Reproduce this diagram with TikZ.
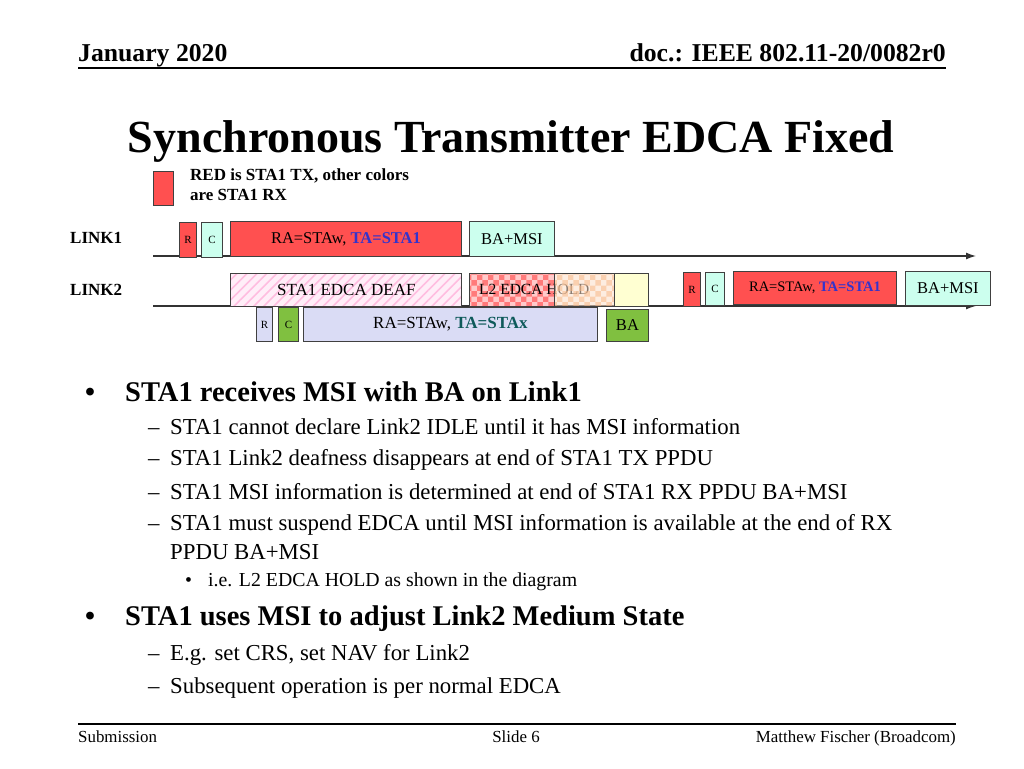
\documentclass[tikz,border=0pt]{standalone}
\usepackage{fontspec}
\setmainfont{Liberation Serif}
\usetikzlibrary{arrows.meta,patterns,patterns.meta}
\definecolor{TxRed}{HTML}{FF5050}
\definecolor{RxCyan}{HTML}{CCFFEE}
\definecolor{RxLilac}{HTML}{DADCF5}
\definecolor{RxGreen}{HTML}{80C040}
\definecolor{DeafPink}{HTML}{FFEEF8}
\definecolor{HatchPink}{HTML}{FFBDE0}
\definecolor{HoldRed}{HTML}{FF7A7A}
\definecolor{HoldOrange}{HTML}{F8B888}
\definecolor{HoldYellow}{HTML}{FFFFD2}
\definecolor{TaBlue}{HTML}{3333CC}
\definecolor{TaTeal}{HTML}{0E5A5A}

\begin{document}
\begin{tikzpicture}[x=1pt, y=-1pt,
  frame/.style={draw=black!75, line width=0.9pt, inner sep=0pt, anchor=north west, font=\fontsize{16.5}{18}\selectfont},
  tiny/.style={frame, font=\fontsize{11}{12}\selectfont},
  txt/.style={anchor=west, inner sep=0pt},
  head/.style={font=\fontsize{25.7}{28}\bfseries\selectfont},
  big/.style={txt, font=\fontsize{28.5}{32}\bfseries\selectfont},
  sub/.style={txt, font=\fontsize{22.8}{26}\selectfont},
  subsub/.style={txt, font=\fontsize{19.8}{23}\selectfont},
  foot/.style={font=\fontsize{16.9}{19}\selectfont, inner sep=0pt},
  link/.style={-{Latex[length=10pt,width=7pt]}, line width=1.3pt, draw=black!80}
]
  \useasboundingbox (0,0) rectangle (1024,768);

  % header
  \node[anchor=base west, inner sep=0pt, head] (date) at (78,62) {January 2020};
  \node[anchor=base east, inner sep=0pt, head] (docid) at (946,62) {doc.: IEEE 802.11-20/0082r0};
  \coordinate (hl) at (78,68);
  \coordinate (hr) at (946,68);
  \draw[line width=1.8pt] (hl) -- (hr);

  \node[inner sep=0pt, font=\fontsize{46}{50}\bfseries\selectfont] (title) at (511,142) {Synchronous Transmitter EDCA Fixed};

  % legend
  \node[frame, fill=TxRed, minimum width=20pt, minimum height=34pt] (legend) at (153,171) {};
  \node[anchor=north west, inner sep=0pt, align=left, font=\fontsize{17}{20}\bfseries\selectfont] (legendtxt) at (190,169) {RED is STA1 TX, other colors\\are STA1 RX};

  % links
  \node[txt, font=\fontsize{17}{19}\bfseries\selectfont] (link1) at (70,238) {LINK1};
  \node[txt, font=\fontsize{17}{19}\bfseries\selectfont] (link2) at (70,290) {LINK2};
  \coordinate (l1s) at (153,256);
  \coordinate (l1e) at (976,256);
  \coordinate (l2s) at (153,306);
  \coordinate (l2e) at (976,306);
  \draw[link] (l1s) -- (l1e);
  \draw[link] (l2s) -- (l2e);

  % link1 frames
  \node[tiny, fill=TxRed, minimum width=17pt, minimum height=35pt] (l1r) at (179,222) {R};
  \node[tiny, fill=RxCyan, minimum width=21pt, minimum height=35pt] (l1c) at (201,222) {C};
  \node[frame, fill=TxRed, minimum width=231pt, minimum height=35pt] (l1data) at (230,221) {RA=STAw, \textcolor{TaBlue}{\bfseries TA=STA1}};
  \node[frame, fill=RxCyan, minimum width=85pt, minimum height=35pt] (l1ba) at (469,221) {BA+MSI};

  % link2 state
  \node[frame, preaction={fill=DeafPink}, pattern={Lines[angle=45,distance=7pt,line width=1.6pt]}, pattern color=HatchPink, minimum width=231pt, minimum height=33pt, font=\fontsize{17}{19}\selectfont] (deaf) at (230,273) {STA1 EDCA DEAF};
  \node[frame, preaction={fill=HoldRed!40}, pattern=checkerboard, pattern color=HoldRed, minimum width=85pt, minimum height=33pt] (holdred) at (469,273) {};
  \node[txt, font=\fontsize{15.5}{17}\selectfont] (holdtxt) at (479,289) {L2 EDCA HOLD};
  \node[frame, fill opacity=0.55, preaction={fill=HoldOrange!45}, pattern=checkerboard, pattern color=HoldOrange, minimum width=60pt, minimum height=33pt] (holdorange) at (554,273) {};
  \node[frame, fill=HoldYellow, minimum width=34pt, minimum height=33pt] (holdyellow) at (614,273) {};

  % link2 frames from STA1
  \node[tiny, fill=TxRed, minimum width=17pt, minimum height=34pt] (l2r) at (683,272) {R};
  \node[tiny, fill=RxCyan, minimum width=19pt, minimum height=33pt] (l2c) at (705,272) {C};
  \node[frame, fill=TxRed, minimum width=163pt, minimum height=33pt, font=\fontsize{14.5}{16}\selectfont] (l2data) at (733,271) {RA=STAw, \textcolor{TaBlue}{\bfseries TA=STA1}};
  \node[frame, fill=RxCyan, minimum width=85pt, minimum height=34pt] (l2ba) at (905,271) {BA+MSI};

  % link2 frames from STAx
  \node[tiny, fill=RxLilac, minimum width=16pt, minimum height=34pt] (xr) at (256,307) {R};
  \node[tiny, fill=RxGreen, minimum width=20pt, minimum height=34pt] (xc) at (278,307) {C};
  \node[frame, fill=RxLilac, minimum width=294pt, minimum height=34pt, font=\fontsize{17}{19}\selectfont] (xdata) at (303,307) {RA=STAw, \textcolor{TaTeal}{\bfseries TA=STAx}};
  \node[frame, fill=RxGreen, minimum width=42pt, minimum height=32pt] (xba) at (606,309) {BA};

  % bullets
  \node[big] (b1) at (85,392) {\makebox[40pt][l]{•}STA1 receives MSI with BA on Link1};
  \node[sub] (d1) at (148,427) {\makebox[22pt][l]{–}STA1 cannot declare Link2 IDLE until it has MSI information};
  \node[sub] (d2) at (148,460) {\makebox[22pt][l]{–}STA1 Link2 deafness disappears at end of STA1 TX PPDU};
  \node[sub] (d3) at (148,492) {\makebox[22pt][l]{–}STA1 MSI information is determined at end of STA1 RX PPDU BA+MSI};
  \node[sub] (d4) at (148,525) {\makebox[22pt][l]{–}STA1 must suspend EDCA until MSI information is available at the end of RX};
  \node[sub] (d4b) at (170,552) {PPDU BA+MSI};
  \node[subsub] (e1) at (185,582) {\makebox[23pt][l]{•}i.e. L2 EDCA HOLD as shown in the diagram};
  \node[big] (b2) at (85,619) {\makebox[40pt][l]{•}STA1 uses MSI to adjust Link2 Medium State};
  \node[sub] (d5) at (148,655) {\makebox[22pt][l]{–}E.g. set CRS, set NAV for Link2};
  \node[sub] (d6) at (148,688) {\makebox[22pt][l]{–}Subsequent operation is per normal EDCA};

  % footer
  \coordinate (fl) at (78,724);
  \coordinate (fr) at (956,724);
  \draw[line width=1.5pt] (fl) -- (fr);
  \node[foot, anchor=base west] (subm) at (78,742) {Submission};
  \node[foot, anchor=base] (slide) at (516,742) {Slide 6};
  \node[foot, anchor=base east] (author) at (956,742) {Matthew Fischer (Broadcom)};
\end{tikzpicture}
\end{document}
